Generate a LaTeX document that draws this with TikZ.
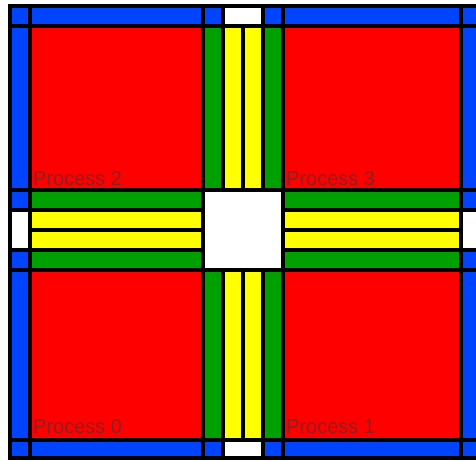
\documentclass[tikz,border=0pt]{standalone}
\usepackage{fontspec}
\setmainfont{Liberation Sans}
\definecolor{haloBlue}{RGB}{0,68,255}
\definecolor{innerRed}{RGB}{255,0,0}
\definecolor{edgeGreen}{RGB}{0,160,0}
\definecolor{ghostYellow}{RGB}{255,255,0}
\definecolor{labelBrown}{RGB}{140,32,32}
\newcommand{\gCell}[5]{\filldraw[#1] (#2,#3) rectangle (#4,#5);}

\begin{document}
\begin{tikzpicture}[x=1pt,y=-1pt,
  cell/.style={draw=black, line width=4pt},
  halo/.style={cell, fill=haloBlue},
  inner/.style={cell, fill=innerRed},
  edge/.style={cell, fill=edgeGreen},
  ghost/.style={cell, fill=ghostYellow},
  empty/.style={cell, fill=white},
  plabel/.style={anchor=base west, inner sep=0pt, text=labelBrown, font=\fontsize{20}{24}\selectfont}]
\useasboundingbox (0,0) rectangle (476,460);
\clip (0,0) rectangle (476,460);
\gCell{halo}{9.5}{6.5}{29.5}{26.5} \gCell{halo}{29.5}{6.5}{203}{26.5} \gCell{halo}{203}{6.5}{222.5}{26.5}
\gCell{empty}{222.5}{6.5}{262.5}{26.5} \gCell{halo}{262.5}{6.5}{283}{26.5} \gCell{halo}{283}{6.5}{461}{26.5} \gCell{halo}{461}{6.5}{481}{26.5}
\gCell{halo}{9.5}{26.5}{29.5}{190} \gCell{inner}{29.5}{26.5}{203}{190} \gCell{edge}{203}{26.5}{222.5}{190} \gCell{ghost}{222.5}{26.5}{242.5}{190}
\gCell{ghost}{242.5}{26.5}{262.5}{190} \gCell{edge}{262.5}{26.5}{283}{190} \gCell{inner}{283}{26.5}{461}{190} \gCell{halo}{461}{26.5}{481}{190}
\gCell{halo}{9.5}{190}{29.5}{209.5} \gCell{edge}{29.5}{190}{203}{209.5} \gCell{edge}{283}{190}{461}{209.5} \gCell{halo}{461}{190}{481}{209.5}
\gCell{empty}{9.5}{209.5}{29.5}{249.5} \gCell{ghost}{29.5}{209.5}{203}{229.5} \gCell{ghost}{283}{209.5}{461}{229.5} \gCell{empty}{461}{209.5}{481}{249.5}
\gCell{ghost}{29.5}{229.5}{203}{249.5} \gCell{ghost}{283}{229.5}{461}{249.5}
\gCell{halo}{9.5}{249.5}{29.5}{270} \gCell{edge}{29.5}{249.5}{203}{270} \gCell{edge}{283}{249.5}{461}{270} \gCell{halo}{461}{249.5}{481}{270}
\gCell{empty}{203}{190}{283}{270}
\gCell{halo}{9.5}{270}{29.5}{439.5} \gCell{inner}{29.5}{270}{203}{439.5} \gCell{edge}{203}{270}{222.5}{439.5} \gCell{ghost}{222.5}{270}{242.5}{439.5}
\gCell{ghost}{242.5}{270}{262.5}{439.5} \gCell{edge}{262.5}{270}{283}{439.5} \gCell{inner}{283}{270}{461}{439.5} \gCell{halo}{461}{270}{481}{439.5}
\gCell{halo}{9.5}{439.5}{29.5}{458} \gCell{halo}{29.5}{439.5}{203}{458} \gCell{halo}{203}{439.5}{222.5}{458}
\gCell{empty}{222.5}{439.5}{262.5}{458} \gCell{halo}{262.5}{439.5}{283}{458} \gCell{halo}{283}{439.5}{461}{458} \gCell{halo}{461}{439.5}{481}{458}
\node[plabel] (proc2) at (33,185) {Process 2};
\node[plabel] (proc3) at (286,185) {Process 3};
\node[plabel] (proc0) at (33,433) {Process 0};
\node[plabel] (proc1) at (286,433) {Process 1};
\end{tikzpicture}
\end{document}
